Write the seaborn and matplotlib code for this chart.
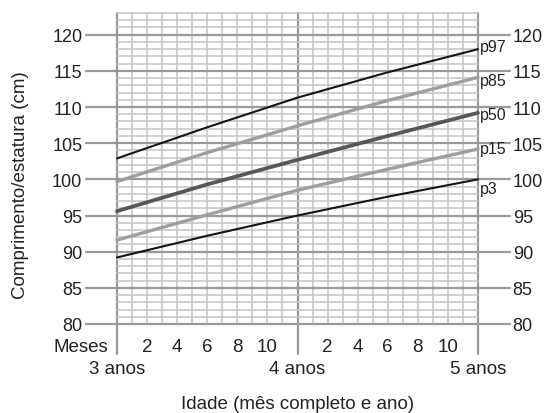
import numpy as np
import pandas as pd
import seaborn as sns
from matplotlib import pyplot as plt

# months after 3 years
months = [0, 6, 12, 18, 24]
p97 = [102.9, 107.2, 111.3, 114.8, 118.0]
p85 = [99.7, 103.7, 107.4, 110.9, 114.1]
p50 = [95.6, 99.3, 102.7, 106.0, 109.2]
p15 = [91.6, 95.1, 98.5, 101.4, 104.2]
p3 = [89.2, 92.2, 95.0, 97.6, 100.0]

curve_names = ["p97", "p85", "p50", "p15", "p3"]
month_ticks = [2, 4, 6, 8, 10, 14, 16, 18, 20, 22]
month_labels = ["2", "4", "6", "8", "10", "2", "4", "6", "8", "10"]
year_labels = ["3 anos", "4 anos", "5 anos"]
y_ticks = [80, 85, 90, 95, 100, 105, 110, 115, 120]

df = pd.DataFrame({
    "mes": months * 5,
    "altura": p97 + p85 + p50 + p15 + p3,
    "curva": np.repeat(curve_names, len(months)),
})

sns.set_style("white")
plt.rcParams['font.family'] = ['Liberation Sans', 'DejaVu Sans']

TXT = "#222222"
MINOR = "#c4c4c4"
MAJOR = "#9a9a9a"
FS = 13.5

fig = plt.figure(figsize=(5.45, 4.14), dpi=100)
ax = fig.add_axes([117 / 545, 89 / 414, 361 / 545, 311 / 414])

# grid drawn by hand so the major lines can run past the plot edges
for m in range(0, 25):
    if m % 12 == 0:
        ax.axvline(m, ymin=-30 / 311, ymax=1, color=MAJOR, lw=1.6, zorder=0, clip_on=False)
    else:
        ax.axvline(m, color=MINOR, lw=1.1, zorder=0, clip_on=False)
for c in range(80, 124):
    if c % 5 == 0:
        ax.axhline(c, xmin=-31 / 361, xmax=1 + 32 / 361, color=MAJOR, lw=1.6, zorder=0.5, clip_on=False)
    else:
        ax.axhline(c, color=MINOR, lw=1.1, zorder=0, clip_on=False)

palette = {"p97": "#151515", "p85": "#9e9e9e", "p50": "#575757", "p15": "#9e9e9e", "p3": "#151515"}
sizes = {"p97": 1.5, "p85": 2.4, "p50": 2.7, "p15": 2.4, "p3": 1.5}
sns.lineplot(data=df, x="mes", y="altura", hue="curva", size="curva",
             palette=palette, sizes=sizes, legend=False, ax=ax, zorder=3, clip_on=False)

ax.set_xlim(0, 24)
ax.set_ylim(80, 123)
for s in ax.spines.values():
    s.set_visible(False)

ax.set_yticks(y_ticks)
ax.tick_params(axis="y", length=0, labelsize=13, labelcolor=TXT, pad=25,
               labelleft=True, labelright=True)

ax.set_xticks(month_ticks)
ax.set_xticklabels(month_labels)
ax.tick_params(axis="x", length=6, width=1.2, color=MAJOR, pad=4,
               labelsize=FS, labelcolor=TXT, direction="out")

# percentile names at the right end of each curve
label_dy = {"p97": 0.4, "p85": -0.4, "p50": -0.3, "p15": 0.0, "p3": -1.3}
for name, vals in zip(curve_names, [p97, p85, p50, p15, p3]):
    ax.text(24.15, vals[-1] + label_dy[name], name, fontsize=11.5, color=TXT,
            ha="left", va="center", clip_on=False)

tr = ax.get_xaxis_transform()
ax.text(-0.55, -23 / 311, "Meses", transform=tr, ha="right", va="center",
        fontsize=FS, color=TXT)
for m, lab in zip([0, 12, 24], year_labels):
    ax.text(m, -45 / 311, lab, transform=tr, ha="center", va="center",
            fontsize=FS, color=TXT)

ax.set_xlabel("Idade (mês completo e ano)", fontsize=FS, color=TXT, va="center")
ax.xaxis.set_label_coords(0.5, -80 / 311)
ax.set_ylabel("Comprimento/estatura (cm)", fontsize=FS, color=TXT, va="center")
ax.yaxis.set_label_coords(-97 / 361, 140 / 311)

fig.savefig("out.png", dpi=100)
